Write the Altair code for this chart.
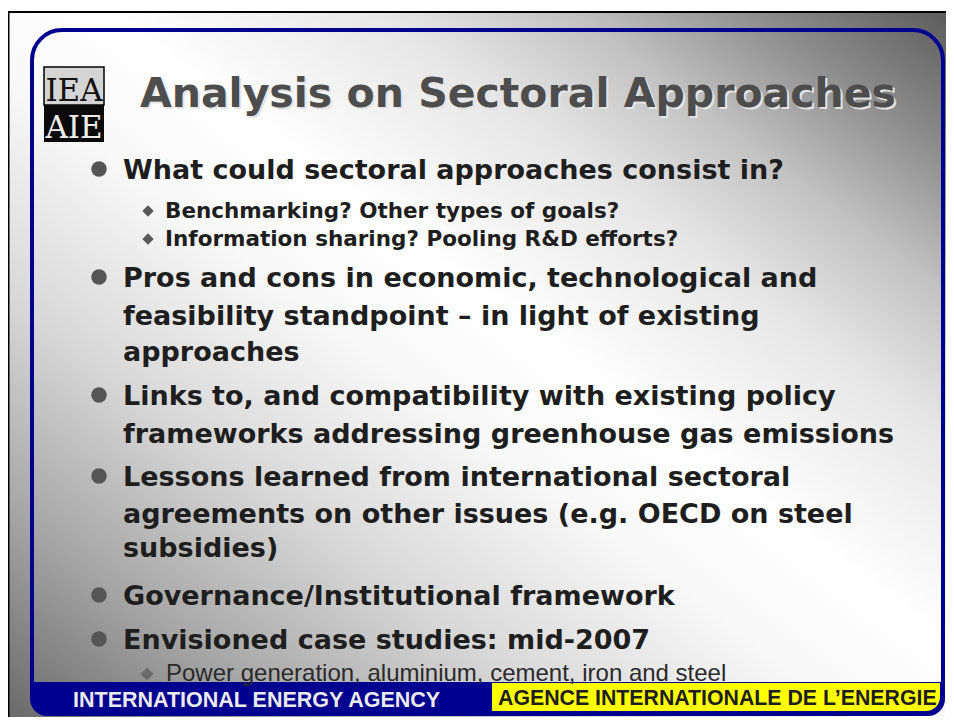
import altair as alt
import pandas as pd

# ---- slide content ----
title_text = ["Analysis on Sectoral Approaches"]
line_text = [
    "What could sectoral approaches consist in?",
    "Benchmarking? Other types of goals?",
    "Information sharing? Pooling R&D efforts?",
    "Pros and cons in economic, technological and",
    "feasibility standpoint \u2013 in light of existing",
    "approaches",
    "Links to, and compatibility with existing policy",
    "frameworks addressing greenhouse gas emissions",
    "Lessons learned from international sectoral",
    "agreements on other issues (e.g. OECD on steel",
    "subsidies)",
    "Governance/Institutional framework",
    "Envisioned case studies: mid-2007",
    "Power generation, aluminium, cement, iron and steel",
]
line_kind = ["main", "sub", "sub", "main", "cont", "cont", "main", "cont",
             "main", "cont", "cont", "main", "main", "subreg"]
line_y = [179, 218, 246, 287, 325, 361, 405, 443, 486, 523, 557, 605, 649, 681]
footer_left = ["INTERNATIONAL ENERGY AGENCY"]
footer_right = ["AGENCE INTERNATIONALE DE L\u2019ENERGIE"]
logo_top = ["IEA"]
logo_bottom = ["AIE"]

grad_offsets = [0.0, 0.15, 0.3, 0.45, 0.55, 0.7, 0.8, 0.9, 1.0]
grad_colors = ["#6a6a6a", "#a6a6a6", "#d8d8d8", "#f8f8f8", "#ffffff",
               "#e6e6e6", "#c2c2c2", "#8c8c8c", "#5c5c5c"]

indent = {"main": 123, "cont": 123, "sub": 165, "subreg": 166}

X = alt.Scale(domain=[8, 946], range=[0, 938])
Y = alt.Scale(domain=[8, 717], range=[0, 709])


def ex(f):
    return alt.X(f, type="quantitative", scale=X, axis=None)


def ey(f):
    return alt.Y(f, type="quantitative", scale=Y, axis=None)


def box(x, x2, y, y2):
    return pd.DataFrame({"x": [x], "x2": [x2], "y": [y], "y2": [y2]})


# background slide with gradient
bg = alt.Chart(box(8, 946, 12, 717)).mark_rect(
    color={"gradient": "linear", "x1": 0, "y1": 1, "x2": 1, "y2": 0,
           "stops": [{"offset": o, "color": c} for o, c in zip(grad_offsets, grad_colors)]}
).encode(x=ex("x"), x2="x2", y=ey("y"), y2="y2")

border_top = alt.Chart(box(8, 946, 12, 12)).mark_rule(color="black", strokeWidth=2).encode(
    x=ex("x"), x2="x2", y=ey("y"))
border_left = alt.Chart(box(8.5, 8.5, 11, 717)).mark_rule(color="black", strokeWidth=2).encode(
    x=ex("x"), y=ey("y"), y2="y2")

# blue rounded frame
frame = alt.Chart(box(32, 943, 30, 714)).mark_rect(
    fill=None, fillOpacity=0, stroke="#000090", strokeWidth=4, cornerRadius=30
).encode(x=ex("x"), x2="x2", y=ey("y"), y2="y2")

# bottom blue bar
bar = alt.Chart(box(30, 945, 682, 716)).mark_rect(
    color="#000090", cornerRadiusBottomLeft=30, cornerRadiusBottomRight=28
).encode(x=ex("x"), x2="x2", y=ey("y"), y2="y2")

yellow = alt.Chart(box(492, 940, 683, 711)).mark_rect(
    color="#ffff00", cornerRadiusBottomRight=22
).encode(x=ex("x"), x2="x2", y=ey("y"), y2="y2")

# logo
logo_a = alt.Chart(box(44, 104, 67, 105)).mark_rect(
    color="#d4d4d4", stroke="black", strokeWidth=1.5
).encode(x=ex("x"), x2="x2", y=ey("y"), y2="y2")
logo_b = alt.Chart(box(44, 104, 105, 142)).mark_rect(color="#0a0a0a").encode(
    x=ex("x"), x2="x2", y=ey("y"), y2="y2")
logo_t1 = alt.Chart(pd.DataFrame({"t": logo_top, "x": [74], "y": [101]})).mark_text(
    font="DejaVu Serif", fontSize=31, color="#111111", align="center", baseline="alphabetic"
).encode(x=ex("x"), y=ey("y"), text="t:N")
logo_t2 = alt.Chart(pd.DataFrame({"t": logo_bottom, "x": [74], "y": [138]})).mark_text(
    font="DejaVu Serif", fontSize=31, color="#eeeeee", align="center", baseline="alphabetic"
).encode(x=ex("x"), y=ey("y"), text="t:N")

# title with shadow
tdf = pd.DataFrame({"t": title_text, "x": [140], "y": [107]})
title_shadow = alt.Chart(tdf).mark_text(
    font="DejaVu Sans", fontWeight="bold", fontSize=41, color="#e4e4e4",
    align="left", baseline="alphabetic", dx=2, dy=2
).encode(x=ex("x"), y=ey("y"), text="t:N")
title = alt.Chart(tdf).mark_text(
    font="DejaVu Sans", fontWeight="bold", fontSize=41, color="#4d4d4d",
    align="left", baseline="alphabetic"
).encode(x=ex("x"), y=ey("y"), text="t:N")

# body lines
ldf = pd.DataFrame({"t": line_text, "kind": line_kind, "y": line_y})
ldf["x"] = ldf["kind"].map(indent)

main_txt = alt.Chart(ldf[ldf.kind.isin(["main", "cont"])]).mark_text(
    font="DejaVu Sans", fontWeight="bold", fontSize=27, color="#1e1e1e",
    align="left", baseline="alphabetic"
).encode(x=ex("x"), y=ey("y"), text="t:N")
sub_txt = alt.Chart(ldf[ldf.kind == "sub"]).mark_text(
    font="DejaVu Sans", fontWeight="bold", fontSize=21.5, color="#1e1e1e",
    align="left", baseline="alphabetic"
).encode(x=ex("x"), y=ey("y"), text="t:N")
subreg_txt = alt.Chart(ldf[ldf.kind == "subreg"]).mark_text(
    font="Liberation Sans", fontSize=24, color="#2a2a2a",
    align="left", baseline="alphabetic"
).encode(x=ex("x"), y=ey("y"), text="t:N")

dots = alt.Chart(ldf[ldf.kind == "main"]).transform_calculate(
    bx="99", by="datum.y - 10"
).mark_point(shape="circle", filled=True, size=240, color="#555555", opacity=1).encode(
    x=ex("bx"), y=ey("by"))
diam = alt.Chart(ldf[ldf.kind == "sub"]).transform_calculate(
    bx="148", by="datum.y - 7"
).mark_point(shape="diamond", filled=True, size=130, color="#5a5a5a", opacity=1).encode(
    x=ex("bx"), y=ey("by"))
diam2 = alt.Chart(ldf[ldf.kind == "subreg"]).transform_calculate(
    bx="147", by="datum.y - 7"
).mark_point(shape="diamond", filled=True, size=170, color="#6a6a6a", opacity=1).encode(
    x=ex("bx"), y=ey("by"))

# footer
fl = alt.Chart(pd.DataFrame({"t": footer_left, "x": [73], "y": [707]})).mark_text(
    font="Liberation Sans", fontWeight="bold", fontSize=21.5, color="#ebebeb",
    align="left", baseline="alphabetic"
).encode(x=ex("x"), y=ey("y"), text="t:N")
fr = alt.Chart(pd.DataFrame({"t": footer_right, "x": [498], "y": [705]})).mark_text(
    font="Liberation Sans", fontWeight="bold", fontSize=21.3, color="#1e1e1e",
    align="left", baseline="alphabetic"
).encode(x=ex("x"), y=ey("y"), text="t:N")

chart = alt.layer(
    bg, border_top, border_left, frame, bar, yellow,
    logo_a, logo_b, logo_t1, logo_t2,
    title_shadow, title,
    dots, diam, diam2, main_txt, sub_txt, subreg_txt,
    fl, fr
).properties(
    width=938, height=709, padding=0, autosize="none", background="white"
).configure_view(stroke=None)

chart.save("out.html", embed_options={"renderer": "svg", "actions": False})
